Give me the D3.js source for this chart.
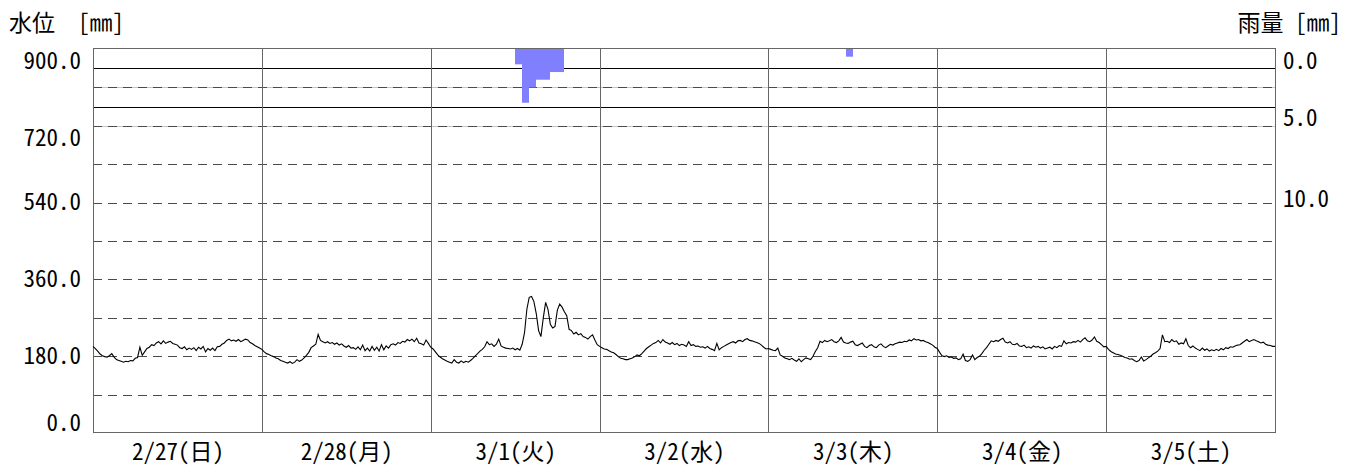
<!DOCTYPE html>
<html>
<head>
<meta charset="utf-8">
<script src="https://cdn.jsdelivr.net/npm/d3@7"></script>
<style>
  html, body { margin: 0; padding: 0; background: #fff; }
  svg text { font-family: "Noto Sans CJK JP", sans-serif; font-feature-settings: "hwid" 1; white-space: pre; fill: #000; }
</style>
</head>
<body>
<svg id="chart" width="1345" height="466"></svg>
<script>
// day labels along the bottom
const dayLabels = ['2/27(日)', '2/28(月)', '3/1(火)', '3/2(水)', '3/3(木)', '3/4(金)', '3/5(土)'];

// water level [mm], one value every 20 minutes starting at 00:00 of each day
const level0227 = [203,198,192,185,181,179,178,181,186,178,172,170,168,166,168,167,170,169,175,177,201,182,190,198,
                   201,207,205,211,214,209,216,210,213,215,210,208,206,200,198,202,195,199,196,200,193,201,197,203,
                   190,198,194,199,193,202,203,208,211,217,220,216,218,215,219,214,217,220,218,212,209,205,202,199];
const level0228 = [196,190,186,184,181,179,176,174,170,168,166,164,167,163,166,172,168,171,176,182,189,200,204,208,
                   231,217,214,211,214,210,212,208,211,206,209,204,201,205,199,200,196,202,195,206,193,199,192,203,
                   194,201,192,207,195,204,199,207,209,206,212,210,215,213,219,216,220,214,222,211,209,206,218,210];
const level0301 = [201,197,190,183,178,174,171,168,166,164,172,166,164,169,165,168,166,170,175,181,186,192,196,202,
                   214,207,209,203,208,220,204,201,199,198,197,199,195,198,194,208,235,290,318,320,308,280,240,226,
                   270,306,290,255,246,250,288,302,295,284,275,243,240,232,236,230,233,226,224,220,226,230,218,207];
const level0302 = [203,200,197,196,193,190,188,184,179,175,174,172,172,174,176,179,183,181,186,192,198,202,206,210,
                   212,217,211,219,213,211,208,212,207,210,205,208,206,203,214,205,207,203,204,201,202,199,203,198,
                   196,193,210,195,200,203,206,209,212,214,211,216,217,214,219,221,217,216,214,212,210,206,201,197];
const level0303 = [198,196,194,193,199,183,180,176,174,172,175,171,168,174,167,172,176,174,172,180,191,200,215,212,
                   217,214,216,219,214,212,216,224,213,211,210,213,215,207,205,208,211,203,200,205,207,202,200,206,
                   209,203,200,204,208,206,209,211,213,212,215,214,218,216,221,218,219,216,217,214,212,209,206,201];
const level0304 = [198,189,181,179,181,177,178,175,176,172,174,185,170,168,172,183,172,177,180,186,194,200,208,216,
                   214,217,215,219,222,213,211,214,208,207,210,204,203,206,200,202,199,204,201,203,199,202,197,199,
                   201,197,203,200,205,203,216,209,212,211,214,213,217,213,219,223,216,214,218,225,215,212,207,202];
const level0305 = [203,196,191,188,185,184,182,180,177,176,173,174,170,167,170,178,169,172,176,180,185,188,192,198,
                   230,214,215,212,219,214,216,208,211,209,221,205,200,204,199,196,193,199,194,197,192,195,193,196,
                   193,198,195,200,198,202,201,204,206,207,211,215,219,214,217,219,216,214,211,213,208,206,205,203,203];
const levelDays = [level0227, level0228, level0301, level0302, level0303, level0304, level0305];

// hourly rainfall [mm]: day index, hour of day, amount
const rainDay  = [2, 2, 2, 2, 2, 2, 2, 4];
const rainHour = [12, 13, 14, 15, 16, 17, 18, 11];
const rainMm   = [1.0, 3.5, 2.5, 2.0, 2.0, 1.5, 1.5, 0.5];

// axis ticks
const levelTicks = [0, 180, 360, 540, 720, 900];
const levelGrid  = [90, 180, 270, 360, 450, 540, 630, 720, 810];
const rainTicks  = [0, 5, 10];
const rainGrid   = [1.25, 2.5, 3.75, 5];

const W = 1345, H = 466;
const plotLeft = 93, plotRight = 1275, plotTop = 49, plotBottom = 433;
const fontSize = 23;

const svg = d3.select('#chart');
svg.append('rect').attr('width', W).attr('height', H).attr('fill', '#fff');

const x = d3.scaleLinear().domain([0, 24 * dayLabels.length]).range([plotLeft, plotRight]);
const yLevel = d3.scaleLinear().domain([0, 900]).range([plotBottom, plotTop]);
const yRain = d3.scaleLinear().domain([0, 25]).range([plotTop, plotBottom]);

const crisp = v => Math.round(v) + 0.5;

// rain grid (solid lines near the top)
svg.append('g').selectAll('line')
    .data(rainGrid)
    .enter().append('line')
        .attr('x1', plotLeft).attr('x2', plotRight)
        .attr('y1', d => crisp(yRain(d))).attr('y2', d => crisp(yRain(d)))
        .attr('stroke', (d, i) => i % 2 === 0 ? '#000' : '#c4c4c4')
        .attr('stroke-width', 1);

// water level grid (dashed)
svg.append('g').selectAll('line')
    .data(levelGrid)
    .enter().append('line')
        .attr('x1', plotLeft).attr('x2', plotRight)
        .attr('y1', d => crisp(yLevel(d))).attr('y2', d => crisp(yLevel(d)))
        .attr('stroke', '#4a4a4a')
        .attr('stroke-width', 1)
        .attr('stroke-dasharray', '9,6');

// rain bars
const rainData = rainMm.map((mm, i) => ({ h: rainDay[i] * 24 + rainHour[i], mm: mm }));
svg.append('g').selectAll('rect')
    .data(rainData)
    .enter().append('rect')
        .attr('x', d => Math.round(x(d.h)))
        .attr('width', d => Math.round(x(d.h + 1)) - Math.round(x(d.h)))
        .attr('y', yRain(0))
        .attr('height', d => yRain(d.mm) - yRain(0))
        .attr('fill', '#8080ff');

// day separators
svg.append('g').selectAll('line')
    .data(d3.range(1, dayLabels.length))
    .enter().append('line')
        .attr('x1', d => crisp(x(d * 24))).attr('x2', d => crisp(x(d * 24)))
        .attr('y1', plotTop).attr('y2', plotBottom)
        .attr('stroke', '#666')
        .attr('stroke-width', 1);

// frame
svg.append('rect')
    .attr('x', crisp(plotLeft)).attr('y', crisp(plotTop) - 1)
    .attr('width', Math.round(plotRight - plotLeft)).attr('height', Math.round(plotBottom - plotTop))
    .attr('fill', 'none')
    .attr('stroke', '#666')
    .attr('stroke-width', 1);

// water level line
const points = [];
levelDays.forEach((vals, d) => {
    vals.forEach((v, i) => points.push({ h: d * 24 + i / 3, v: v }));
});
svg.append('path')
    .datum(points)
    .attr('fill', 'none')
    .attr('stroke', '#000')
    .attr('stroke-width', 1.1)
    .attr('d', d3.line().x(d => x(d.h)).y(d => yLevel(d.v)));

// left axis labels
const levelNudge = v => (v >= 720 ? 12 : v === 0 ? -10 : 0);
const gLeft = svg.append('g')
    .attr('transform', 'translate(' + plotLeft + ',0)')
    .call(d3.axisLeft(yLevel).tickValues(levelTicks).tickSize(0).tickPadding(12).tickFormat(d3.format('.1f')));
gLeft.select('.domain').remove();
gLeft.selectAll('text')
    .attr('font-size', fontSize)
    .attr('transform', d => 'translate(0,' + levelNudge(d) + ')');

// right axis labels
const rainNudge = v => (v === 0 ? 12 : v === 5 ? -8 : -3);
const gRight = svg.append('g')
    .attr('transform', 'translate(' + plotRight + ',0)')
    .call(d3.axisRight(yRain).tickValues(rainTicks).tickSize(0).tickPadding(8).tickFormat(d3.format('.1f')));
gRight.select('.domain').remove();
gRight.selectAll('text')
    .attr('font-size', fontSize)
    .attr('transform', d => 'translate(0,' + rainNudge(d) + ')');

// date labels
const gBottom = svg.append('g')
    .attr('transform', 'translate(0,' + plotBottom + ')')
    .call(d3.axisBottom(x).tickValues(dayLabels.map((_, i) => i * 24 + 12)).tickSize(0).tickPadding(11)
        .tickFormat((d, i) => dayLabels[i]));
gBottom.select('.domain').remove();
gBottom.selectAll('text').attr('font-size', fontSize);

// axis titles
svg.append('text')
    .attr('x', 9).attr('y', 31)
    .attr('font-size', fontSize)
    .text('水位  [㎜]');
svg.append('text')
    .attr('x', 1341).attr('y', 31)
    .attr('font-size', fontSize)
    .attr('text-anchor', 'end')
    .text('雨量 [㎜]');
</script>
</body>
</html>
